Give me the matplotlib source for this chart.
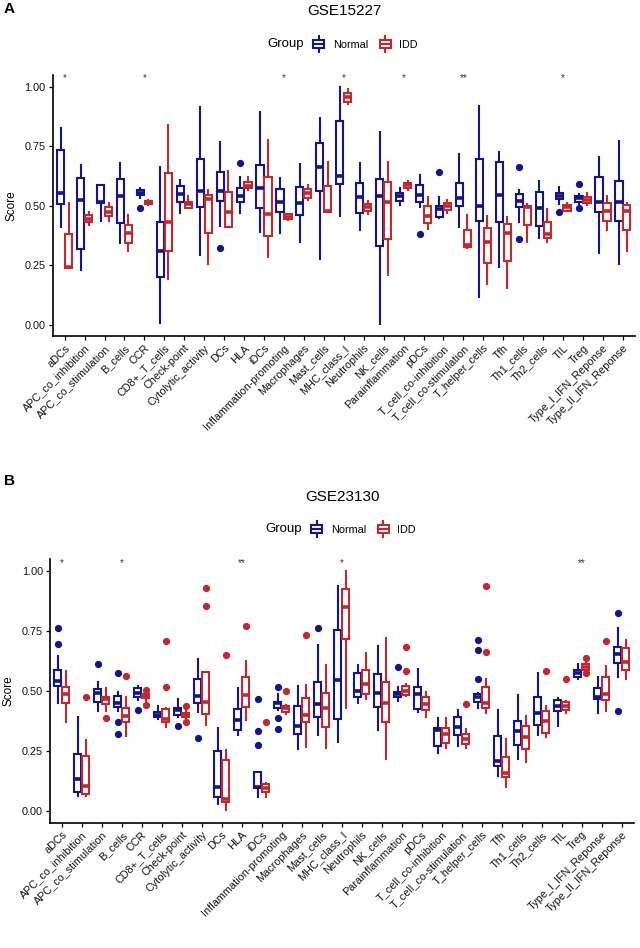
import numpy as np
import matplotlib
matplotlib.use("Agg")
import matplotlib.pyplot as plt
from matplotlib.legend_handler import HandlerBase
from matplotlib.patches import Rectangle, Patch
from matplotlib.lines import Line2D

plt.rcParams['font.family'] = ['Liberation Sans', 'DejaVu Sans']

CELLS = ["aDCs", "APC_co_inhibition", "APC_co_stimulation", "B_cells", "CCR",
         "CD8+_T_cells", "Check-point", "Cytolytic_activity", "DCs", "HLA",
         "iDCs", "Inflammation-promoting", "Macrophages", "Mast_cells",
         "MHC_class_I", "Neutrophils", "NK_cells", "Parainflammation", "pDCs",
         "T_cell_co-inhibition", "T_cell_co-stimulation", "T_helper_cells",
         "Tfh", "Th1_cells", "Th2_cells", "TIL", "Treg",
         "Type_I_IFN_Reponse", "Type_II_IFN_Reponse"]

NORMAL_COL = "#13148F"
IDD_COL = "#C3282D"

# ---- GSE15227 (panel A): whisker low, q1, median, q3, whisker high
A_N_LO = [0.41, 0.231, 0.437, 0.346, 0.535, 0.007, 0.472, 0.294, 0.416, 0.469, 0.392, 0.388, 0.35, 0.277, 0.458,
          0.399, 0.004, 0.505, 0.497, 0.45, 0.413, 0.119, 0.245, 0.434, 0.364, 0.51, 0.51, 0.301, 0.255]
A_N_Q1 = [0.508, 0.319, 0.511, 0.427, 0.548, 0.20, 0.518, 0.497, 0.522, 0.518, 0.492, 0.473, 0.464, 0.564, 0.591,
          0.469, 0.333, 0.521, 0.515, 0.455, 0.501, 0.438, 0.431, 0.497, 0.417, 0.528, 0.518, 0.473, 0.438]
A_N_MED = [0.556, 0.525, 0.518, 0.542, 0.556, 0.312, 0.549, 0.564, 0.563, 0.542, 0.576, 0.518, 0.511, 0.663, 0.626,
           0.539, 0.542, 0.54, 0.546, 0.486, 0.535, 0.50, 0.546, 0.521, 0.49, 0.542, 0.532, 0.515, 0.518]
A_N_Q3 = [0.735, 0.616, 0.587, 0.612, 0.567, 0.431, 0.585, 0.699, 0.644, 0.577, 0.671, 0.57, 0.579, 0.766, 0.856,
          0.595, 0.613, 0.553, 0.587, 0.501, 0.598, 0.699, 0.684, 0.55, 0.559, 0.556, 0.543, 0.62, 0.605]
A_N_HI = [0.826, 0.671, 0.59, 0.679, 0.575, 0.665, 0.609, 0.915, 0.768, 0.623, 0.896, 0.616, 0.675, 0.868, 0.999,
          0.679, 0.812, 0.575, 0.63, 0.539, 0.718, 0.92, 0.728, 0.567, 0.606, 0.58, 0.55, 0.707, 0.773]
A_N_OUT = {4: [0.49], 8: [0.325], 9: [0.68], 18: [0.382], 19: [0.643], 23: [0.663, 0.36],
           25: [0.473], 26: [0.592, 0.493]}

A_I_LO = [0.24, 0.42, 0.437, 0.312, 0.505, 0.193, 0.49, 0.255, 0.41, 0.567, 0.287, 0.44, 0.525, 0.476, 0.93,
          0.468, 0.21, 0.567, 0.402, 0.469, 0.325, 0.171, 0.154, 0.35, 0.35, 0.48, 0.506, 0.399, 0.311]
A_I_Q1 = [0.24, 0.432, 0.458, 0.343, 0.507, 0.311, 0.493, 0.385, 0.41, 0.574, 0.374, 0.444, 0.535, 0.476, 0.937,
          0.48, 0.361, 0.574, 0.427, 0.483, 0.329, 0.259, 0.27, 0.42, 0.364, 0.48, 0.511, 0.438, 0.399]
A_I_MED = [0.245, 0.445, 0.476, 0.385, 0.515, 0.431, 0.508, 0.528, 0.476, 0.585, 0.466, 0.452, 0.553, 0.48, 0.957,
           0.497, 0.518, 0.588, 0.458, 0.5, 0.335, 0.35, 0.385, 0.497, 0.381, 0.494, 0.525, 0.48, 0.48]
A_I_Q3 = [0.382, 0.462, 0.496, 0.42, 0.522, 0.637, 0.518, 0.546, 0.56, 0.602, 0.623, 0.465, 0.57, 0.585, 0.976,
          0.508, 0.602, 0.598, 0.50, 0.514, 0.399, 0.406, 0.423, 0.501, 0.434, 0.504, 0.539, 0.511, 0.504]
A_I_HI = [0.511, 0.476, 0.511, 0.462, 0.525, 0.84, 0.542, 0.567, 0.648, 0.623, 0.777, 0.468, 0.588, 0.686, 0.99,
          0.52, 0.686, 0.605, 0.539, 0.525, 0.462, 0.459, 0.455, 0.508, 0.487, 0.514, 0.553, 0.542, 0.514]
A_I_OUT = {}
A_STARS = {0: "*", 4: "*", 11: "*", 14: "*", 17: "*", 20: "**", 25: "*"}

# ---- GSE23130 (panel B)
B_N_LO = [0.451, 0.064, 0.417, 0.415, 0.462, 0.383, 0.39, 0.414, 0.029, 0.317, 0.057, 0.42, 0.257, 0.317, 0.289,
          0.449, 0.3375, 0.46, 0.414, 0.24, 0.271, 0.43, 0.146, 0.217, 0.317, 0.354, 0.549, 0.41, 0.56]
B_N_Q1 = [0.521, 0.078, 0.453, 0.435, 0.474, 0.39, 0.40, 0.451, 0.06, 0.3375, 0.094, 0.428, 0.321, 0.393, 0.382,
          0.476, 0.432, 0.474, 0.424, 0.271, 0.317, 0.453, 0.1875, 0.275, 0.358, 0.417, 0.56, 0.465, 0.615]
B_N_MED = [0.542, 0.132, 0.49, 0.449, 0.493, 0.40, 0.42, 0.479, 0.101, 0.379, 0.101, 0.449, 0.354, 0.444, 0.546,
           0.5, 0.49, 0.486, 0.486, 0.3375, 0.349, 0.476, 0.208, 0.333, 0.407, 0.439, 0.574, 0.476, 0.653]
B_N_Q3 = [0.5875, 0.236, 0.51, 0.48, 0.511, 0.411, 0.43, 0.549, 0.251, 0.424, 0.164, 0.455, 0.439, 0.539, 0.754,
          0.574, 0.57, 0.497, 0.515, 0.347, 0.39, 0.486, 0.314, 0.375, 0.476, 0.4625, 0.5875, 0.514, 0.685]
B_N_HI = [0.646, 0.39, 0.539, 0.497, 0.521, 0.439, 0.465, 0.632, 0.345, 0.511, 0.164, 0.486, 0.521, 0.692, 0.939,
          0.608, 0.6875, 0.518, 0.59, 0.386, 0.421, 0.493, 0.421, 0.483, 0.574, 0.472, 0.6125, 0.557, 0.764]
B_N_OUT = {0: [0.764, 0.697], 2: [0.611], 3: [0.576, 0.37, 0.321], 4: [0.421], 6: [0.354], 7: [0.303],
           10: [0.465, 0.335, 0.274], 11: [0.518, 0.386, 0.342], 13: [0.764], 17: [0.601],
           21: [0.714, 0.672, 0.551], 28: [0.826, 0.417]}

B_I_LO = [0.37, 0.064, 0.418, 0.314, 0.46, 0.351, 0.385, 0.358, 0.004, 0.379, 0.06, 0.404, 0.268, 0.261, 0.428,
          0.467, 0.215, 0.48, 0.39, 0.261, 0.261, 0.407, 0.101, 0.203, 0.307, 0.41, 0.583, 0.418, 0.55]
B_I_Q1 = [0.451, 0.071, 0.446, 0.37, 0.472, 0.372, 0.39, 0.404, 0.039, 0.435, 0.078, 0.414, 0.37, 0.351, 0.717,
          0.486, 0.372, 0.483, 0.421, 0.282, 0.278, 0.43, 0.143, 0.257, 0.324, 0.421, 0.5875, 0.4625, 0.5875]
B_I_MED = [0.486, 0.104, 0.465, 0.396, 0.479, 0.383, 0.40, 0.455, 0.049, 0.483, 0.094, 0.43, 0.40, 0.43, 0.849,
           0.528, 0.449, 0.5, 0.447, 0.321, 0.299, 0.449, 0.157, 0.31, 0.375, 0.439, 0.598, 0.4875, 0.62]
B_I_Q3 = [0.515, 0.23, 0.476, 0.43, 0.486, 0.424, 0.41, 0.58, 0.2125, 0.56, 0.111, 0.4375, 0.47, 0.493, 0.924,
          0.5875, 0.536, 0.521, 0.474, 0.347, 0.321, 0.518, 0.224, 0.355, 0.418, 0.455, 0.611, 0.56, 0.678]
B_I_HI = [0.583, 0.296, 0.514, 0.474, 0.495, 0.43, 0.425, 0.58, 0.254, 0.626, 0.115, 0.44, 0.525, 0.608, 1.0,
          0.657, 0.72, 0.53, 0.497, 0.386, 0.342, 0.55, 0.299, 0.395, 0.4375, 0.46, 0.62, 0.606, 0.7125]
B_I_OUT = {1: [0.476], 2: [0.389], 3: [0.564], 4: [0.504, 0.442], 5: [0.71, 0.518], 6: [0.4375, 0.37],
           7: [0.928, 0.853], 8: [0.651], 9: [0.771], 10: [0.37], 11: [0.501], 12: [0.733],
           17: [0.685, 0.583], 20: [0.444], 21: [0.936, 0.664], 24: [0.583], 25: [0.549],
           26: [0.636, 0.574], 27: [0.71]}
B_STARS = {0: "*", 3: "*", 9: "**", 14: "*", 26: "**"}


class BoxHandler(HandlerBase):
    def create_artists(self, legend, orig_handle, xdescent, ydescent, width, height, fontsize, trans):
        c = orig_handle.get_edgecolor()
        bw = width * 0.66
        x0 = -xdescent + (width - bw) / 2
        y0 = -ydescent
        xc = x0 + bw / 2
        wl = Line2D([xc, xc], [y0 - 1, y0 + height + 1], color=c, lw=1.5, transform=trans)
        box = Rectangle((x0, y0 + height * 0.2), bw, height * 0.6, facecolor="white",
                        edgecolor=c, lw=1.5, transform=trans)
        med = Line2D([x0, x0 + bw], [y0 + height / 2] * 2, color=c, lw=1.5, transform=trans)
        return [wl, box, med]


def stats(lo, q1, med, q3, hi, out):
    return [dict(whislo=lo[i], q1=q1[i], med=med[i], q3=q3[i], whishi=hi[i],
                 fliers=out.get(i, [])) for i in range(len(lo))]


def draw_panel(ax, normal, idd, stars):
    x = np.arange(len(CELLS))
    for st, off, col in [(normal, -0.2, NORMAL_COL), (idd, 0.2, IDD_COL)]:
        ax.bxp(st, positions=x + off, widths=0.36, showcaps=False, patch_artist=True,
               boxprops=dict(facecolor="white", edgecolor=col, linewidth=1.5),
               whiskerprops=dict(color=col, linewidth=1.5),
               medianprops=dict(color=col, linewidth=2.6),
               flierprops=dict(marker="o", markerfacecolor=col, markeredgecolor=col, markersize=4.2))
    for i, s in stars.items():
        ax.text(i, 1.035, s, ha="center", va="center", fontsize=7, color="#333333")
    ax.set_xlim(-0.6, len(CELLS) - 0.4)
    ax.set_xticks(x)
    ax.set_xticklabels(CELLS, rotation=45, ha="right", va="top", rotation_mode="anchor",
                       fontsize=7.8, color="#111111")
    ax.set_yticks([0, 0.25, 0.5, 0.75, 1.0])
    ax.set_yticklabels(["0.00", "0.25", "0.50", "0.75", "1.00"], fontsize=7.8, color="#111111")
    ax.set_ylabel("Score", fontsize=8.5, labelpad=5)
    for sp in ["top", "right"]:
        ax.spines[sp].set_visible(False)
    for sp in ["left", "bottom"]:
        ax.spines[sp].set_linewidth(1.2)
    ax.tick_params(length=3, width=0.9, pad=2)


fig = plt.figure(figsize=(6.4, 9.48), dpi=100)
axA = fig.add_axes([0.0823, 0.6456, 0.9097, 0.2753])
axA.set_ylim(-0.046, 1.05)
draw_panel(axA, stats(A_N_LO, A_N_Q1, A_N_MED, A_N_Q3, A_N_HI, A_N_OUT),
           stats(A_I_LO, A_I_Q1, A_I_MED, A_I_Q3, A_I_HI, A_I_OUT), A_STARS)

axB = fig.add_axes([0.0777, 0.1322, 0.9125, 0.2778])
axB.set_ylim(-0.049, 1.049)
draw_panel(axB, stats(B_N_LO, B_N_Q1, B_N_MED, B_N_Q3, B_N_HI, B_N_OUT),
           stats(B_I_LO, B_I_Q1, B_I_MED, B_I_Q3, B_I_HI, B_I_OUT), B_STARS)

handles = [Patch(edgecolor=NORMAL_COL, facecolor="white"), Patch(edgecolor=IDD_COL, facecolor="white")]
for title, ty, ly, dx in [("GSE15227", 11, 44, 2), ("GSE23130", 497, 529, 0)]:
    fig.text((343 + dx - 1) / 640, 1 - ty / 948, title, ha="center", va="center", fontsize=11)
    fig.text((302 + dx) / 640, 1 - ly / 948, "Group", ha="right", va="center", fontsize=9.5)
    fig.legend(handles, ["Normal", "IDD"], loc="center left",
               bbox_to_anchor=((308 + dx) / 640, 1 - ly / 948), ncol=2, frameon=False,
               fontsize=7.8, handler_map={Patch: BoxHandler()}, handlelength=1.6,
               handleheight=1.5, handletextpad=0.5, columnspacing=0.8,
               borderpad=0, borderaxespad=0)

fig.text(4 / 640, 1 - 9 / 948, "A", fontsize=11, fontweight="bold", va="center")
fig.text(4 / 640, 1 - 481 / 948, "B", fontsize=11, fontweight="bold", va="center")

fig.savefig("out.png", dpi=100)
